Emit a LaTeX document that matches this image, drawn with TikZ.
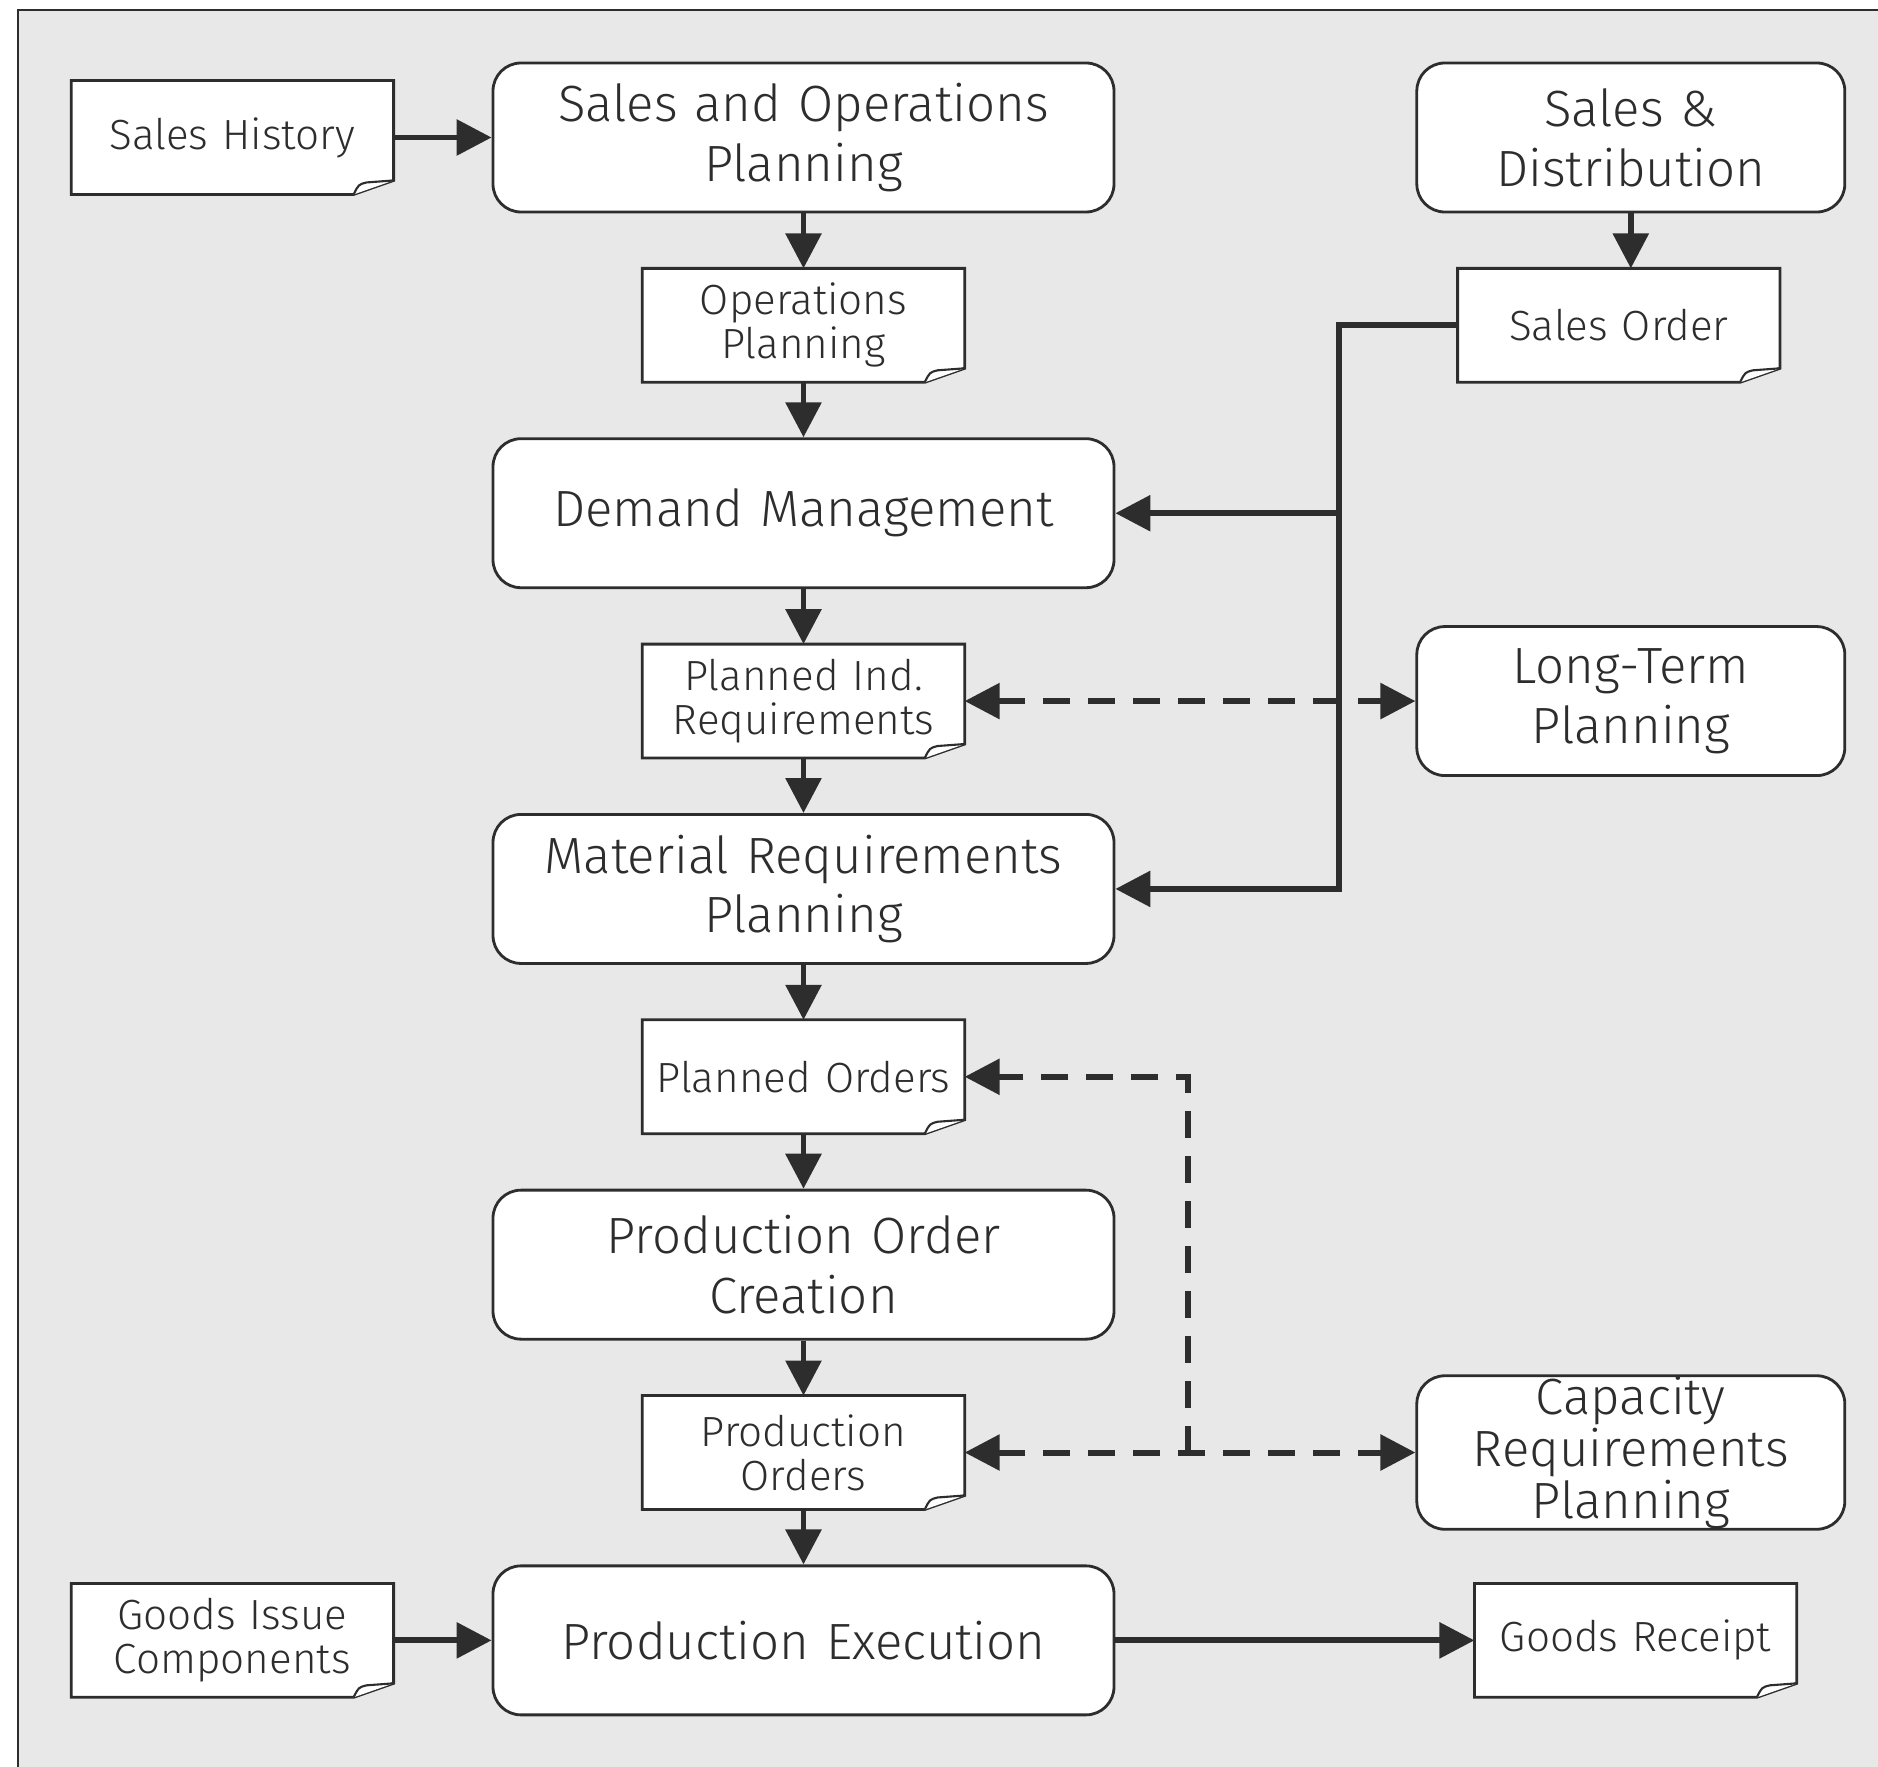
\documentclass[tikz,border=0pt]{standalone}
\usepackage{fontspec}
\setmainfont{Fira Sans}[UprightFont=* Light]
\usetikzlibrary{positioning,calc,arrows.meta}
\pgfdeclarelayer{background}
\pgfsetlayers{background,main}
\definecolor{panel}{RGB}{232,232,232}
\definecolor{ink}{RGB}{45,45,45}
\hyphenpenalty=10000

\begin{document}
\begin{tikzpicture}[
    node distance=0.55cm and 1cm,
    process/.style={rectangle, draw=ink, fill=white, rounded corners=0.28cm, line width=0.8pt, minimum width=6.21cm, minimum height=1.49cm, inner sep=0.1cm, text width=6cm, align=center, text=ink, font=\fontsize{14.5}{17}\selectfont},
    side/.style={process, minimum width=4.28cm, text width=4.08cm},
    document/.style={rectangle, minimum width=3.21cm, minimum height=1.125cm, inner sep=0pt, text width=3.1cm, align=center, text=ink, font=\fontsize{12}{12.5}\selectfont},
    docborder/.style={draw=ink, fill=white, line width=0.8pt},
    flow/.style={-{Triangle[length=0.35cm, width=0.35cm]}, line width=1.7pt, draw=ink},
    dflow/.style={flow, dash pattern=on 0.27cm off 0.18cm},
    twoway/.style={dflow, {Triangle[length=0.35cm, width=0.35cm]}-{Triangle[length=0.35cm, width=0.35cm]}}
]

% Frame
\useasboundingbox (0,0) rectangle (18.78,-17.67);
\begin{pgfonlayer}{background}
\fill[panel] (0.18,-0.10) rectangle (18.78,-17.67);
\draw[line width=0.6pt, ink] (0.18,-17.67) -- (0.18,-0.10) -- (18.78,-0.10);
\end{pgfonlayer}

% Main column
\node[process] (sop) at (8.035,-1.375) {Sales and Operations\\Planning};
\node[document, below=of sop] (op) {Operations\\Planning};
\node[process, below=of op] (dm) {Demand Management};
\node[document, below=of dm] (pir) {Planned Ind.\\Requirements};
\node[process, below=of pir] (mrp) {Material Requirements\\Planning};
\node[document, below=of mrp] (po) {Planned Orders};
\node[process, below=of po] (poc) {Production Order\\Creation};
\node[document, below=of poc] (prodo) {Production\\Orders};
\node[process, below=of prodo] (pe) {Production Execution};

% Left side
\node[document, left=0.98cm of sop] (sh) {Sales History};
\node[document, left=0.98cm of pe] (gic) {Goods Issue\\Components};

% Right side
\node[side, right=3cm of sop] (sd) {Sales \&\\Distribution};
\node[document, below=of sd, xshift=-0.12cm] (so) {Sales Order};
\node[side] (ltp) at (sd |- pir) {Long-Term\\Planning};
\node[side, inner ysep=0pt, font=\fontsize{14.5}{12.8}\selectfont] (crp) at (sd |- prodo) {Capacity\\Requirements\\Planning};
\node[document, right=3.59cm of pe] (gr) {Goods Receipt};

% Document outlines with folded corner
\begin{pgfonlayer}{background}
\foreach \d in {sh, op, pir, po, prodo, so, gic, gr} {
  \path[docborder] (\d.north west) -- (\d.north east) -- ([yshift=0.14cm]\d.south east)
    -- ([xshift=-0.4cm]\d.south east) -- (\d.south west) -- cycle;
  \path[docborder, line width=0.6pt] ([xshift=-0.4cm]\d.south east) .. controls ([xshift=-0.35cm, yshift=0.1cm]\d.south east)
    .. ([xshift=-0.27cm, yshift=0.12cm]\d.south east) -- ([yshift=0.14cm]\d.south east);
}
\end{pgfonlayer}

% Arrows - main column
\foreach \from/\to in {sop/op, op/dm, dm/pir, pir/mrp, mrp/po, po/poc, poc/prodo, prodo/pe}
  \draw[flow] (\from) -- (\to);
\draw[flow] (sh) -- (sop);
\draw[flow] (gic) -- (pe);
\draw[flow] (pe) -- (gr);

% Arrows - sales order
\draw[flow] (sd.south) -- (sd.south |- so.north);
\draw[flow] (so.west) -| ([xshift=2.24cm]mrp.east) -- (mrp.east);
\draw[flow] ([xshift=2.24cm]dm.east) -- (dm.east);

% Arrows - dashed links
\draw[twoway] (pir.east) -- (ltp.west);
\draw[twoway] (prodo.east) -- (crp.west);
\draw[dflow] ([xshift=2.23cm]prodo.east) |- (po.east);

\end{tikzpicture}
\end{document}
